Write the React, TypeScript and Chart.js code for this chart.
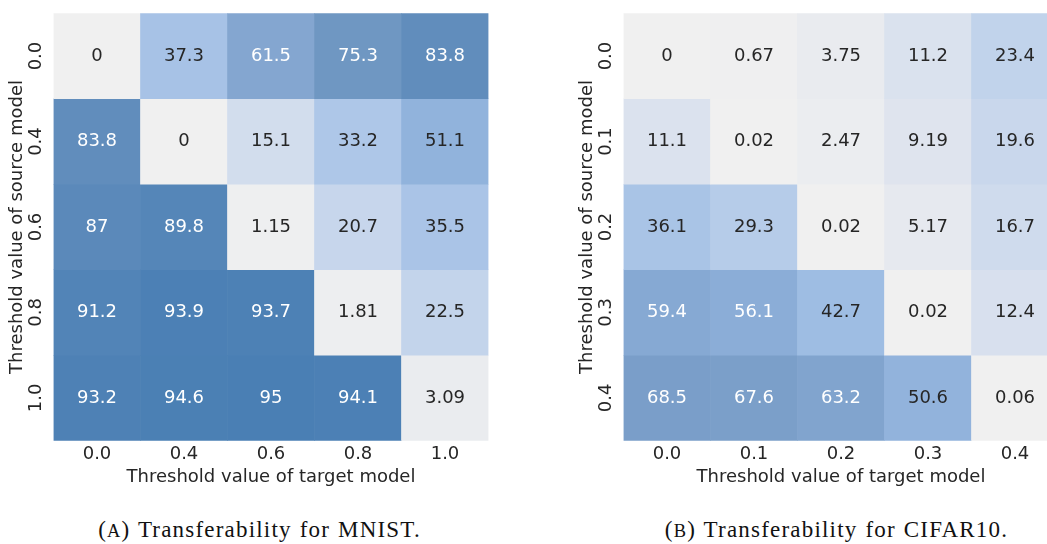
import React, { useEffect, useRef } from "react";
import { Chart, registerables } from "chart.js";

Chart.register(...registerables);

// ---------- data ----------
const mnistTargetThresholds = ["0.0", "0.4", "0.6", "0.8", "1.0"];
const mnistSourceThresholds = ["0.0", "0.4", "0.6", "0.8", "1.0"];
const mnistValues = [
  [0, 37.3, 61.5, 75.3, 83.8],
  [83.8, 0, 15.1, 33.2, 51.1],
  [87, 89.8, 1.15, 20.7, 35.5],
  [91.2, 93.9, 93.7, 1.81, 22.5],
  [93.2, 94.6, 95, 94.1, 3.09],
];

const cifarTargetThresholds = ["0.0", "0.1", "0.2", "0.3", "0.4"];
const cifarSourceThresholds = ["0.0", "0.1", "0.2", "0.3", "0.4"];
const cifarValues = [
  [0, 0.67, 3.75, 11.2, 23.4],
  [11.1, 0.02, 2.47, 9.19, 19.6],
  [36.1, 29.3, 0.02, 5.17, 16.7],
  [59.4, 56.1, 42.7, 0.02, 12.4],
  [68.5, 67.6, 63.2, 50.6, 0.06],
];

const xAxisTitle = "Threshold value of target model";
const yAxisTitle = "Threshold value of source model";

// ---------- style ----------
const FONT = "'DejaVu Sans', sans-serif";
const FS = 18;
const TEXT = "#262626";
const colorStops: [number, [number, number, number]][] = [
  [0, [240, 240, 240]],
  [10, [221, 227, 238]],
  [20, [200, 215, 236]],
  [35, [171, 197, 231]],
  [45, [154, 186, 226]],
  [55, [140, 174, 216]],
  [65, [127, 162, 204]],
  [75, [112, 151, 194]],
  [85, [95, 140, 187]],
  [95, [74, 127, 180]],
];

function cellColor(v: number): string {
  let lo = colorStops[0];
  let hi = colorStops[colorStops.length - 1];
  if (v <= lo[0]) return `rgb(${lo[1].join(",")})`;
  if (v >= hi[0]) return `rgb(${hi[1].join(",")})`;
  for (let i = 0; i < colorStops.length - 1; i++) {
    if (v >= colorStops[i][0] && v <= colorStops[i + 1][0]) {
      lo = colorStops[i];
      hi = colorStops[i + 1];
      break;
    }
  }
  const t = (v - lo[0]) / (hi[0] - lo[0]);
  const c = lo[1].map((a, k) => Math.round(a + (hi[1][k] - a) * t));
  return `rgb(${c.join(",")})`;
}

function fmt(v: number): string {
  return String(Number(v.toPrecision(3)));
}

const CW = 500;
const CH = 500;
const AREA_LEFT = 53.5;
const AREA_RIGHT = 488.5;
const AREA_TOP = 7.5;
const AREA_BOTTOM = 440.7;

type HeatProps = {
  left: number;
  xLabels: string[];
  yLabels: string[];
  values: number[][];
};

function Heatmap({ left, xLabels, yLabels, values }: HeatProps) {
  const ref = useRef<HTMLCanvasElement | null>(null);
  useEffect(() => {
    if (!ref.current) return;
    const labelPlugin = {
      id: "cellLabels",
      afterDatasetsDraw(chart: any) {
        const ctx = chart.ctx;
        ctx.save();
        ctx.font = `${FS}px ${FONT}`;
        ctx.textAlign = "center";
        ctx.textBaseline = "middle";
        chart.data.datasets.forEach((ds: any, di: number) => {
          const meta = chart.getDatasetMeta(di);
          meta.data.forEach((el: any, ci: number) => {
            const v = values[di][ci];
            const y = (el.y + el.base) / 2;
            ctx.fillStyle = v > 53 ? "#ffffff" : TEXT;
            ctx.fillText(fmt(v), el.x, y);
          });
        });
        ctx.restore();
      },
    };
    const chart = new Chart(ref.current, {
      type: "bar",
      data: {
        labels: xLabels,
        datasets: values.map((row, i) => ({
          data: row.map(() => [i - 0.5, i + 0.5]),
          backgroundColor: row.map(cellColor),
          borderWidth: 0,
          barPercentage: 1,
          categoryPercentage: 1,
          grouped: false,
        })),
      } as any,
      options: {
        responsive: false,
        animation: false,
        devicePixelRatio: 1,
        layout: {
          padding: { top: AREA_TOP, right: CW - AREA_RIGHT, left: 0, bottom: 0 },
        },
        plugins: {
          legend: { display: false },
          tooltip: { enabled: false },
        },
        scales: {
          x: {
            type: "category",
            offset: true,
            grid: { display: false, drawTicks: false },
            border: { display: false },
            ticks: {
              color: TEXT,
              font: { family: FONT, size: FS },
              padding: 3,
              maxRotation: 0,
              autoSkip: false,
            },
            title: {
              display: true,
              text: xAxisTitle,
              color: TEXT,
              font: { family: FONT, size: FS },
              padding: { top: 0, bottom: 12 },
            },
            afterFit: (s: any) => {
              s.height = CH - AREA_BOTTOM;
            },
          },
          y: {
            type: "linear",
            min: -0.5,
            max: 4.5,
            reverse: true,
            grid: { display: false, drawTicks: false },
            border: { display: false },
            afterBuildTicks: (s: any) => {
              s.ticks = yLabels.map((_, i) => ({ value: i }));
            },
            ticks: {
              color: TEXT,
              font: { family: FONT, size: FS },
              padding: 2.5,
              minRotation: 90,
              maxRotation: 90,
              crossAlign: "center",
              callback: (v: any) => yLabels[Math.round(Number(v))] ?? "",
            },
            title: {
              display: true,
              text: yAxisTitle,
              color: TEXT,
              font: { family: FONT, size: FS },
              padding: { top: 7, bottom: 0 },
            },
            afterFit: (s: any) => {
              s.width = AREA_LEFT;
            },
          },
        },
      } as any,
      plugins: [labelPlugin],
    });
    return () => chart.destroy();
  }, []);
  return (
    <canvas
      ref={ref}
      width={CW}
      height={CH}
      style={{ position: "absolute", left, top: 0, width: CW, height: CH }}
    />
  );
}

const captionStyle = (center: number): React.CSSProperties => ({
  position: "absolute",
  left: center - 250,
  width: 500,
  top: 519,
  textAlign: "center",
  fontFamily: "'Liberation Serif', 'DejaVu Serif', serif",
  fontSize: 23,
  lineHeight: "22px",
  letterSpacing: 1.2,
  wordSpacing: 1,
  color: "#111",
  whiteSpace: "nowrap",
});

export default function App() {
  return (
    <div
      style={{
        position: "fixed",
        left: 0,
        top: 0,
        width: 1047,
        height: 544,
        overflow: "hidden",
        background: "#ffffff",
      }}
    >
      <Heatmap
        left={0}
        xLabels={mnistTargetThresholds}
        yLabels={mnistSourceThresholds}
        values={mnistValues}
      />
      <Heatmap
        left={570}
        xLabels={cifarTargetThresholds}
        yLabels={cifarSourceThresholds}
        values={cifarValues}
      />
      <div style={captionStyle(259.5)}>
        (<span style={{ fontSize: "0.8em" }}>A</span>) Transferability for MNIST.
      </div>
      <div style={captionStyle(836.5)}>
        (<span style={{ fontSize: "0.8em" }}>B</span>) Transferability for CIFAR10.
      </div>
    </div>
  );
}
